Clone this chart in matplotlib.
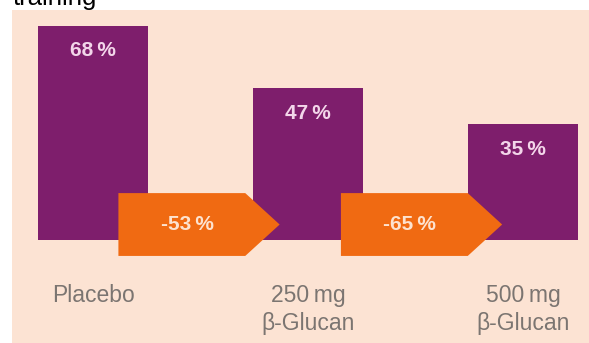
import matplotlib
matplotlib.use('Agg')
import matplotlib.pyplot as plt
from matplotlib.patches import Polygon

# data
categories = ['Placebo', '250\u2009mg\n\u03b2-Glucan', '500\u2009mg\n\u03b2-Glucan']
values = [68, 47, 35]
value_labels = ['68\u2009%', '47\u2009%', '35\u2009%']
reductions = ['-53\u2009%', '-65\u2009%']

PEACH = '#fce3d3'
PURPLE = '#7e1e6c'
ORANGE = '#f06a12'
PINK_TXT = '#f3d6ea'
ARROW_TXT = '#fde2cf'
GREY_TXT = '#7b7571'
BAR_FLOOR = -3.6  # bars sit slightly below the zero line in the original

plt.rcParams['font.family'] = ['Liberation Sans', 'DejaVu Sans']

fig = plt.figure(figsize=(5.89, 3.43), dpi=100)
ax = fig.add_axes([12 / 589, 0, 577 / 589, 333 / 343])
ax.set_facecolor(PEACH)
for s in ax.spines.values():
    s.set_visible(False)
ax.set_xticks([])
ax.set_yticks([])

x = list(range(len(values)))
ax.bar(x, [v - BAR_FLOOR for v in values], bottom=BAR_FLOOR, width=0.512,
       color=PURPLE, zorder=2)
ax.set_xlim(-0.377, 2.307)
ax.set_ylim(-38.1, 73.2)

for xi, v, lab in zip(x, values, value_labels):
    ax.text(xi, v - 8.5, lab, ha='center', va='center', color=PINK_TXT,
            fontsize=15, fontweight='bold', zorder=4)

# reduction arrows between bars
for i, lab in enumerate(reductions):
    x0 = i + 0.118 + 0.035 * i
    xr = x0 + 0.59
    xt = x0 + 0.75
    top, bot, mid = 12.0, -9.0, 1.5
    poly = Polygon([(x0, bot), (x0, top), (xr, top), (xt, mid), (xr, bot)],
                   closed=True, facecolor=ORANGE, edgecolor='none', zorder=3)
    ax.add_patch(poly)
    ax.text(x0 + 0.32, mid, lab, ha='center', va='center', color=ARROW_TXT,
            fontsize=15, fontweight='bold', zorder=4)

for xi, cat in zip(x, categories):
    ax.text(xi, -18.4, cat, ha='center', va='top', color=GREY_TXT,
            fontsize=16.5, linespacing=1.3, zorder=4)

fig.text(13 / 589, 1 - 4.5 / 343, 'training', ha='left', va='baseline',
         fontsize=18.5, color='black')

fig.savefig('out.png', dpi=100)
